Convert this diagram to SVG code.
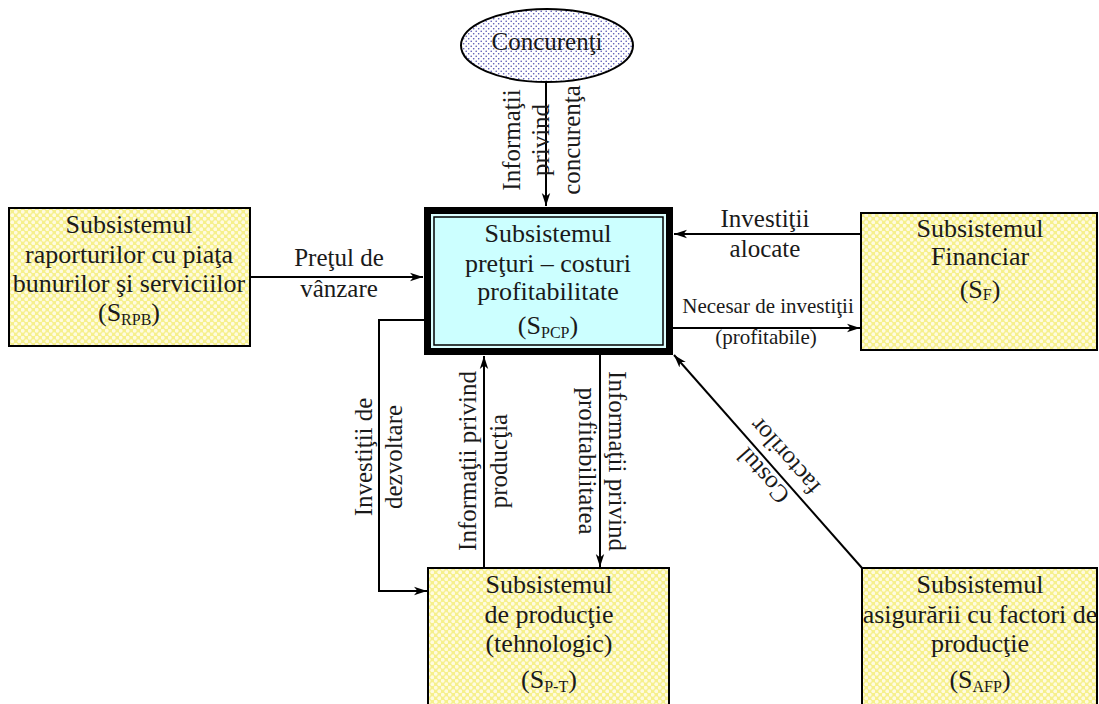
<svg xmlns="http://www.w3.org/2000/svg" width="1099" height="704" viewBox="0 0 1099 704">
  <style>
    text { font-family: "Liberation Serif", "Times New Roman", serif; fill: #1a1a1a; text-anchor: middle; }
    .box { font-size: 26px; }
    .lbl { font-size: 25px; }
    .small { font-size: 21px; }
    .sub { font-size: 16px; }
    .yellow { fill: url(#bubbles); stroke: #000; stroke-width: 2; }
    .conn { fill: none; stroke: #000; stroke-width: 2; }
  </style>
  <defs>
    <pattern id="bubbles" width="7" height="7" patternUnits="userSpaceOnUse">
      <rect width="7" height="7" fill="#f6f08c"/>
      <circle cx="1.75" cy="1.75" r="1.9" fill="#fffbe0"/>
      <circle cx="5.25" cy="5.25" r="1.9" fill="#fffbe0"/>
    </pattern>
    <pattern id="dots" width="5" height="5" patternUnits="userSpaceOnUse">
      <rect width="5" height="5" fill="#ffffff"/>
      <circle cx="1.2" cy="1.2" r="0.8" fill="#5050b0"/>
      <circle cx="3.7" cy="3.7" r="0.8" fill="#5050b0"/>
    </pattern>
    <marker id="arrow" markerUnits="userSpaceOnUse" markerWidth="14" markerHeight="10" refX="13" refY="5" orient="auto">
      <path d="M0,0.8 L13,5 L0,9.2 L3.5,5 Z" fill="#000"/>
    </marker>
  </defs>

  <!-- connectors -->
  <g id="connectors">
    <line class="conn" x1="546" y1="82" x2="546" y2="206" marker-end="url(#arrow)"/>
    <line class="conn" x1="250" y1="277" x2="423" y2="277" marker-end="url(#arrow)"/>
    <line class="conn" x1="861" y1="234" x2="674" y2="234" marker-end="url(#arrow)"/>
    <line class="conn" x1="673" y1="328" x2="860" y2="328" marker-end="url(#arrow)"/>
    <polyline class="conn" points="424,320 379,320 379,591 427,591" marker-end="url(#arrow)"/>
    <line class="conn" x1="484" y1="568" x2="484" y2="356" marker-end="url(#arrow)"/>
    <line class="conn" x1="600" y1="355" x2="600" y2="567" marker-end="url(#arrow)"/>
    <line class="conn" x1="862" y1="568" x2="674" y2="355" marker-end="url(#arrow)"/>

    <!-- connector labels -->
    <g class="lbl">
      <text class="lbl" transform="translate(520,140) rotate(-90)">Informaţii</text>
      <text class="lbl" transform="translate(549,140) rotate(-90)">privind</text>
      <text class="lbl" transform="translate(580,140) rotate(-90)">concurenţa</text>

      <text class="lbl" x="339" y="266">Preţul de</text>
      <text class="lbl" x="339" y="297">vânzare</text>

      <text class="lbl" x="765" y="227">Investiţii</text>
      <text class="lbl" x="765" y="257">alocate</text>

      <text class="small" x="768" y="313">Necesar de investiţii</text>
      <text class="small" x="766" y="344">(profitabile)</text>

      <text class="lbl" transform="translate(372,457) rotate(-90)">Investiţii de</text>
      <text class="lbl" transform="translate(402,457) rotate(-90)">dezvoltare</text>

      <text class="lbl" transform="translate(476,461) rotate(-90)">Informaţii privind</text>
      <text class="lbl" transform="translate(507,461) rotate(-90)">producţia</text>

      <text class="lbl" transform="translate(609,461) rotate(90)">Informaţii privind</text>
      <text class="lbl" transform="translate(579,461) rotate(90)">profitabilitatea</text>

      <g transform="translate(773,467) rotate(228.5)">
        <text class="lbl" x="0" y="-5">Costul</text>
        <text class="lbl" x="0" y="24">factorilor</text>
      </g>
    </g>
  </g>

  <!-- competitors -->
  <g id="concurenti">
    <ellipse cx="547" cy="45.5" rx="86" ry="36.5" fill="url(#dots)" stroke="#000" stroke-width="2"/>
    <text class="lbl" x="547" y="50">Concurenţi</text>
  </g>

  <!-- market relations subsystem -->
  <g id="s-rpb">
    <rect class="yellow" x="9" y="208" width="241" height="138"/>
    <text class="box" x="129" y="233">Subsistemul</text>
    <text class="box" x="129" y="263">raporturilor cu piaţa</text>
    <text class="box" x="129" y="292">bunurilor şi serviciilor</text>
    <text class="box" x="129" y="321">(S<tspan class="sub" dy="4">RPB</tspan><tspan dy="-4">)</tspan></text>
  </g>

  <!-- prices - costs - profitability subsystem -->
  <g id="s-pcp">
    <rect x="424" y="207" width="249" height="148" fill="#000"/>
    <rect x="431" y="214" width="235" height="134" fill="#dcffff"/>
    <rect x="434" y="217" width="229" height="128" fill="#ccffff" stroke="#000" stroke-width="1.5"/>
    <text class="box" x="548" y="242">Subsistemul</text>
    <text class="box" x="548" y="272">preţuri – costuri</text>
    <text class="box" x="548" y="300">profitabilitate</text>
    <text class="box" x="548" y="334">(S<tspan class="sub" dy="4">PCP</tspan><tspan dy="-4">)</tspan></text>
  </g>

  <!-- financial subsystem -->
  <g id="s-f">
    <rect class="yellow" x="861" y="213" width="236" height="137"/>
    <text class="box" x="980" y="237">Subsistemul</text>
    <text class="box" x="980" y="265">Financiar</text>
    <text class="box" x="980" y="298">(S<tspan class="sub" dy="2">F</tspan><tspan dy="-2">)</tspan></text>
  </g>

  <!-- production subsystem -->
  <g id="s-pt">
    <rect class="yellow" x="428" y="568" width="241" height="150"/>
    <text class="box" x="549" y="593">Subsistemul</text>
    <text class="box" x="549" y="623">de producţie</text>
    <text class="box" x="549" y="652">(tehnologic)</text>
    <text class="box" x="549" y="688">(S<tspan class="sub" dy="4">P-T</tspan><tspan dy="-4">)</tspan></text>
  </g>

  <!-- production factors subsystem -->
  <g id="s-afp">
    <rect class="yellow" x="862" y="568" width="235" height="150"/>
    <text class="box" x="980" y="593">Subsistemul</text>
    <text class="box" x="980" y="623">asigurării cu factori de</text>
    <text class="box" x="980" y="652">producţie</text>
    <text class="box" x="980" y="688">(S<tspan class="sub" dy="4">AFP</tspan><tspan dy="-4">)</tspan></text>
  </g>
</svg>
